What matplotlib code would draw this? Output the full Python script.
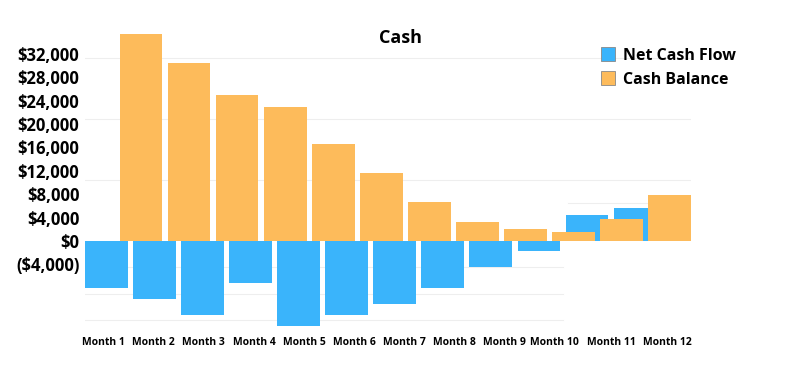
import numpy as np
import matplotlib
matplotlib.use("Agg")
import matplotlib.pyplot as plt
from matplotlib.ticker import FuncFormatter


#######################################################
### Data

months = [f"Month {i}" for i in range(1, 13)]

net_cash_flow = [-8000, -9900, -12600, -7200, -14500, -12600,
                 -10800, -8000, -4400, -1700, 4400, 5600]

cash_balance = [35400, 30400, 25000, 22900, 16600, 11600,
                6600, 3250, 2000, 1550, 3700, 7900]

y_ticks = [32000, 28000, 24000, 20000, 16000, 12000, 8000, 4000, 0, -4000]

# faint background rules (full width, right part, left part)
grid_full = [31300, 20850, 10430]
grid_right = [6500]
grid_left = [-4440, -9060, -13500]


#######################################################
### Plot

plt.rcParams["font.family"] = ["Open Sans", "DejaVu Sans"]

blue = "#3AB4FB"
orange = "#FDBB5B"

fig = plt.figure(figsize=(8, 3.75), dpi=100)
ax = fig.add_axes([0.10625, 0.1264, 0.7575, 0.7926])

x = np.arange(len(months))
offset = 0.72
width = 0.89

for g in grid_full:
    ax.axhline(g, color="#eeeeee", linewidth=0.8, zorder=0)
for g in grid_right:
    ax.axhline(g, xmin=0.797, xmax=1, color="#eeeeee", linewidth=0.8, zorder=0)
for g in grid_left:
    ax.axhline(g, xmin=0, xmax=0.789, color="#eeeeee", linewidth=0.8, zorder=0)

ax.bar(x - offset, net_cash_flow, width=width, color=blue,
       label="Net Cash Flow", zorder=2)
ax.bar(x, cash_balance, width=width, color=orange,
       label="Cash Balance", zorder=3)

ax.set_xlim(-offset - width / 2, x[-1] + width / 2)
ax.set_ylim(-14800, 36000)

ax.set_yticks(y_ticks)
ax.yaxis.set_major_formatter(FuncFormatter(
    lambda v, p: f"${v:,.0f}" if v >= 0 else f"(${-v:,.0f})"))
for lbl in ax.get_yticklabels():
    lbl.set_fontweight("bold")
    lbl.set_fontsize(12)

# month labels drift slightly wider than the bars, as in the source
tick_pos = np.r_[np.linspace(-0.78, 8.61, 10), [9.78, 10.95]]
ax.set_xticks(tick_pos)
ax.set_xticklabels(months, fontsize=7.5, fontweight="bold")

ax.tick_params(axis="both", length=0, pad=4)
ax.tick_params(axis="x", pad=7)
for s in ax.spines.values():
    s.set_visible(False)

fig.text(0.5, 0.898, "Cash", ha="center", va="center",
         fontsize=13, fontweight="bold")

leg = fig.legend(loc="upper left", bbox_to_anchor=(0.733, 0.912),
                 frameon=False, prop={"weight": "bold", "size": 11.5},
                 handlelength=0.9, handleheight=0.9, handletextpad=0.5,
                 labelspacing=0.5)
for h in leg.legend_handles:
    h.set_edgecolor("#888888")
    h.set_linewidth(0.6)

fig.savefig("out.png", dpi=100)
